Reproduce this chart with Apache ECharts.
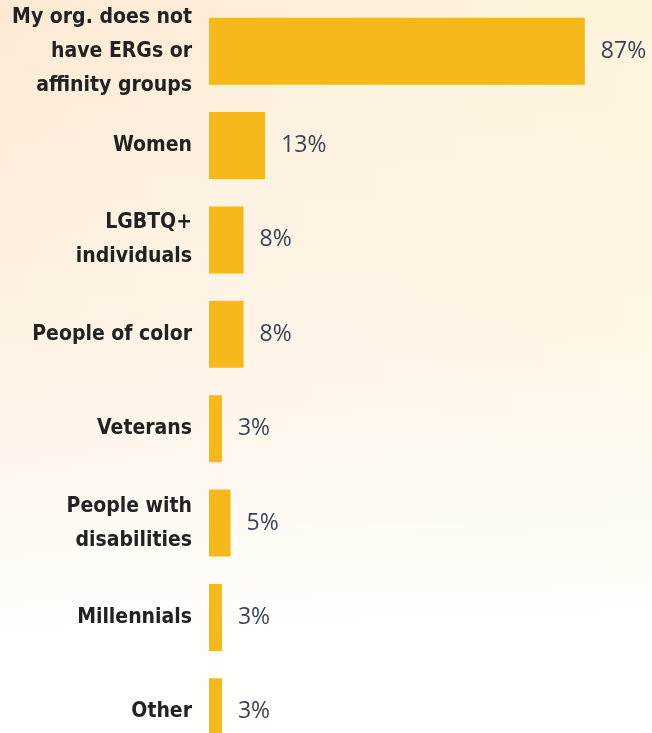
<!DOCTYPE html>
<html>
<head>
<meta charset="utf-8">
<script src="https://cdn.jsdelivr.net/npm/echarts@6/dist/echarts.min.js"></script>
<style>
  html, body { margin: 0; padding: 0; }
  body {
    width: 652px; height: 733px; overflow: hidden;
    background:
      linear-gradient(to bottom, rgba(255,255,255,0) 0%, rgba(255,254,252,0.5) 55%, #fffefc 88%),
      linear-gradient(to right, #fdead4 0%, #fdf0dc 50%, #fdf4da 100%);
  }
  /* the plot runs past the bottom edge, so the last bar is cut off */
  #chart { width: 652px; height: 760px; }
</style>
</head>
<body>
<div id="chart"></div>
<script>
// ERG / affinity group categories and the share of respondents for each
const categories = [
  'My org. does not\nhave ERGs or\naffinity groups',
  'Women',
  'LGBTQ+\nindividuals',
  'People of color',
  'Veterans',
  'People with\ndisabilities',
  'Millennials',
  'Other'
];
const shares = [87, 13, 8, 8, 3, 5, 3, 3];

const chart = echarts.init(document.getElementById('chart'), null, { renderer: 'canvas' });

chart.setOption({
  backgroundColor: 'transparent',
  animation: false,
  grid: { left: 209, right: 11, top: 4, bottom: 1, containLabel: false },
  xAxis: {
    type: 'value', min: 0, max: 100, show: false
  },
  yAxis: {
    type: 'category',
    data: categories,
    inverse: true,
    axisLine: { show: false },
    axisTick: { show: false },
    splitLine: { show: false },
    axisLabel: {
      margin: 17,
      align: 'right',
      color: '#222222',
      fontFamily: '"Liberation Sans Narrow", "DejaVu Sans Condensed", "Roboto", sans-serif',
      fontWeight: 'bold',
      fontSize: 21,
      lineHeight: 34
    }
  },
  series: [{
    type: 'bar',
    data: shares,
    barWidth: 67,
    itemStyle: { color: '#f5b91c' },
    label: {
      show: true,
      position: 'right',
      distance: 16,
      formatter: '{c}%',
      color: '#3a4457',
      fontFamily: '"Open Sans", "Noto Sans", sans-serif',
      fontSize: 23
    }
  }]
});
</script>
</body>
</html>
